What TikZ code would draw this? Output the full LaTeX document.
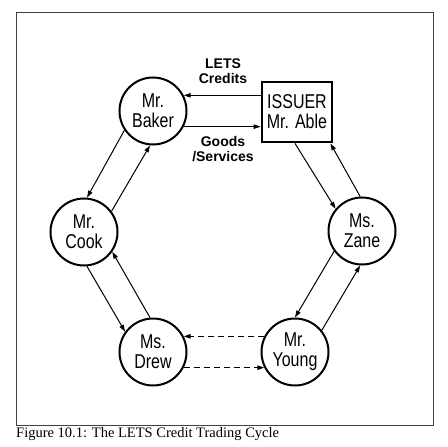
\documentclass[tikz,border=0pt]{standalone}
\usepackage{fontspec}
\setmainfont{Liberation Serif}
\newfontfamily\narrowsans[FakeStretch=0.8]{Liberation Sans}
\newfontfamily\labelsans{Liberation Sans}
\usetikzlibrary{arrows.meta}
\begin{document}
\begin{tikzpicture}[x=1pt,y=-1pt,
  person/.style={circle,draw,line width=2pt,minimum size=67pt,inner sep=0pt,align=center,
    font=\narrowsans\fontsize{20}{20}\selectfont},
  issuerbox/.style={rectangle,draw,line width=2.8pt,minimum width=70pt,minimum height=60pt,
    inner sep=0pt,align=center,font=\narrowsans\fontsize{20}{20}\selectfont},
  flowlabel/.style={align=center,inner sep=0pt,font=\labelsans\bfseries\fontsize{14}{15}\selectfont},
  arr/.style={-{Triangle[length=7pt,width=4.5pt]},line width=1pt},
  darr/.style={arr,dash pattern=on 6pt off 4pt},
  frame/.style={draw=black!75,line width=1pt}]
\useasboundingbox (0,0) rectangle (448,447);
\draw[frame] (16,12) rectangle (433,425);

\node[person] (baker) at (153,111) {Mr.\\Baker};
\node[issuerbox] (issuer) at (297,112) {ISSUER\\Mr. Able};
\node[person] (zane) at (362,231) {Ms.\\Zane};
\node[person] (young) at (295,352) {Mr.\\Young};
\node[person] (drew) at (153,352) {Ms.\\Drew};
\node[person] (cook) at (84,232) {Mr.\\Cook};

\node[flowlabel] (credits) at (223,71) {LETS\\Credits};
\node[flowlabel] (goods) at (223,149) {Goods\\/Services};

% Issuer <-> Baker
\draw[arr] (baker.27 -| issuer.west) -- (baker.27);
\draw[arr] (baker.333) -- (baker.333 -| issuer.west);

% Baker <-> Cook
\draw[arr] (baker.214) -- (cook.85);
\draw[arr] (cook.37) -- (baker.265);

% Cook <-> Drew
\draw[arr] (cook.275) -- (drew.144);
\draw[arr] (drew.95) -- (cook.325);

% Issuer <-> Zane
\draw[arr] ([xshift=-2pt]issuer.south) -- (zane.140);
\draw[arr] (zane.93) -- ([xshift=-3pt]issuer.south east);

% Zane <-> Young
\draw[arr] (zane.216) -- (young.90);
\draw[arr] (young.39) -- (zane.267);

% Young <-> Drew (dashed)
\draw[darr] (young.153) -- (drew.27);
\draw[darr] (drew.333) -- (young.207);

\node[anchor=base west,inner sep=0pt,font=\fontsize{14.5}{16}\selectfont] (caption) at (16,437)
  {Figure 10.1: The LETS Credit Trading Cycle};
\end{tikzpicture}
\end{document}
